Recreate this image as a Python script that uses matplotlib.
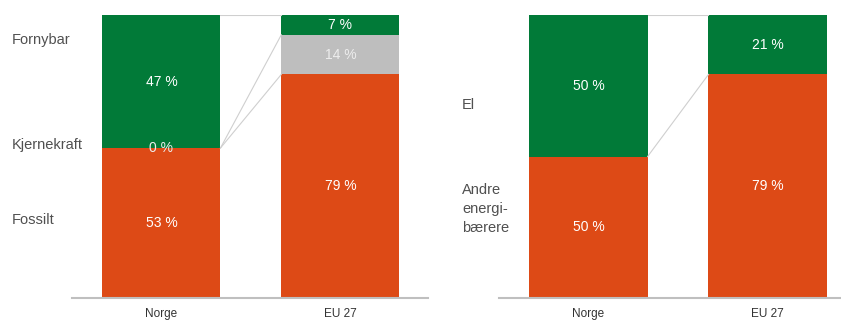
import matplotlib.pyplot as plt

plt.rcParams['font.family'] = ['Liberation Sans', 'DejaVu Sans']

countries = ['Norge', 'EU 27']

# Left panel: energy sources (%)
fossilt = [53, 79]
kjernekraft = [0, 14]
fornybar = [47, 7]

# Right panel: energy carriers (%)
andre = [50, 79]
el = [50, 21]

green = '#017A38'
orange = '#DD4A16'
grey = '#BEBEBE'
line_col = '#CFCFCF'
txt_col = '#505050'

fig = plt.figure(figsize=(8.41, 3.22), dpi=100)
y0 = 1 - 298 / 322
h = (298 - 15) / 322
ax1 = fig.add_axes([72 / 841, y0, (428 - 72) / 841, h])
ax2 = fig.add_axes([499 / 841, y0, (841 - 499) / 841, h])

w = 0.66
x = [0, 1]


def finish(ax, xlim):
    ax.set_xlim(*xlim)
    ax.set_ylim(0, 1)
    ax.set_yticks([])
    ax.set_xticks(x)
    ax.set_xticklabels(countries, fontsize=8.5, color='#333333')
    ax.tick_params(axis='x', length=0, pad=7)
    for s in ['top', 'left', 'right']:
        ax.spines[s].set_visible(False)
    ax.spines['bottom'].set_color('#BFBFBF')
    ax.spines['bottom'].set_linewidth(1.5)


# left panel
bottom = [0, 0]
for vals, col in [(fossilt, orange), (kjernekraft, grey), (fornybar, green)]:
    ax1.bar(x, [v / 100 for v in vals], w, bottom=[b / 100 for b in bottom], color=col, linewidth=0)
    for i, v in enumerate(vals):
        tc = '#EDEDED' if col == grey else 'white'
        ax1.text(x[i], (bottom[i] + v / 2) / 100, f'{v} %', ha='center', va='center',
                 color=tc, fontsize=10)
    bottom = [b + v for b, v in zip(bottom, vals)]

xr, xl = x[0] + w / 2, x[1] - w / 2
ax1.plot([xr, xl], [1, 1], color=line_col, lw=0.8)
ax1.plot([xr, xl], [(fossilt[0] + kjernekraft[0]) / 100, (fossilt[1] + kjernekraft[1]) / 100],
         color=line_col, lw=0.8)
ax1.plot([xr, xl], [fossilt[0] / 100, fossilt[1] / 100], color=line_col, lw=0.8)
finish(ax1, (-0.5, 1.49))

# right panel
bottom = [0, 0]
for vals, col in [(andre, orange), (el, green)]:
    ax2.bar(x, [v / 100 for v in vals], w, bottom=[b / 100 for b in bottom], color=col, linewidth=0)
    for i, v in enumerate(vals):
        ax2.text(x[i], (bottom[i] + v / 2) / 100, f'{v} %', ha='center', va='center',
                 color='white', fontsize=10)
    bottom = [b + v for b, v in zip(bottom, vals)]

ax2.plot([xr, xl], [1, 1], color=line_col, lw=0.8)
ax2.plot([xr, xl], [andre[0] / 100, andre[1] / 100], color=line_col, lw=0.8)
finish(ax2, (-0.5, 1.41))

# category labels
fig.text(12 / 841, 1 - 40 / 322, 'Fornybar', fontsize=10.5, color=txt_col, va='center')
fig.text(12 / 841, 1 - 145 / 322, 'Kjernekraft', fontsize=10.5, color=txt_col, va='center')
fig.text(12 / 841, 1 - 220 / 322, 'Fossilt', fontsize=10.5, color=txt_col, va='center')
fig.text(462 / 841, 1 - 105 / 322, 'El', fontsize=10.5, color=txt_col, va='center')
fig.text(462 / 841, 1 - 209 / 322, 'Andre\nenergi-\nbærere', fontsize=10.5, color=txt_col,
         va='center', linespacing=1.45)

fig.savefig('out.png', dpi=100)
